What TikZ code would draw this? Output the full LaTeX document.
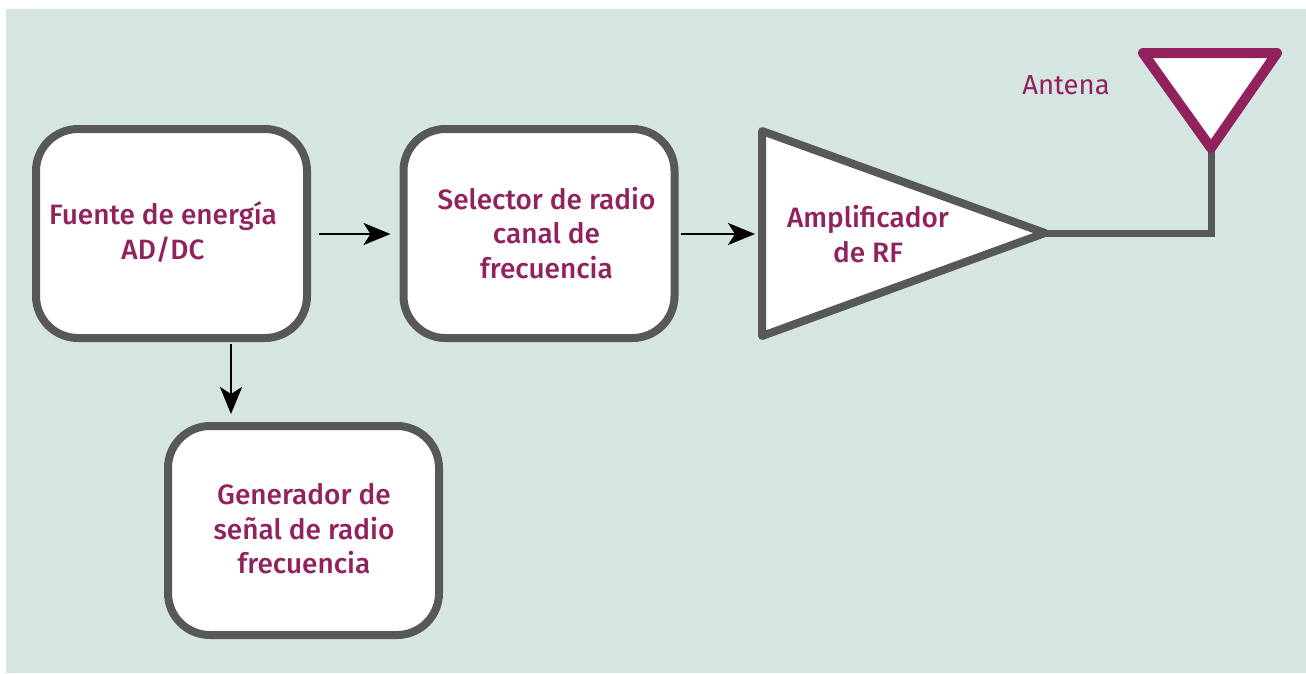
\documentclass[tikz,border=0pt]{standalone}
\usepackage{fontspec}
\setmainfont{Fira Sans}[BoldFont={Fira Sans Medium}]
\usetikzlibrary{arrows.meta,calc}
\definecolor{bgteal}{HTML}{D5E6E2}
\definecolor{boxgray}{HTML}{58585A}
\definecolor{txtpurple}{HTML}{92225E}
\tikzset{
  blockbox/.style={draw=boxgray, line width=8pt, fill=white, rounded corners=42pt,
    minimum width=271pt, minimum height=209pt, inner sep=0pt},
  blocktext/.style={text=txtpurple, font=\fontsize{28}{34.5}\selectfont\bfseries, align=center, inner sep=0pt},
  flowarrow/.style={line width=2.6pt, black, -{Stealth[length=27pt,width=22pt,inset=7pt]}},
  wire/.style={draw=boxgray, line width=7pt},
}
\begin{document}
\begin{tikzpicture}[x=1pt,y=-1pt]
\useasboundingbox (0,0) rectangle (1306,673);
\fill[bgteal] (6,9) rectangle (1306,673);

% blocks
\node[blockbox] (fuente) at (171.5,233.5) {};
\node[blocktext] (fuentet) at (163,232) {Fuente de energía\\AD/DC};
\node[blockbox] (selector) at (539,233.5) {};
\node[blocktext] (selectort) at (546.5,233) {Selector de radio\\canal de\\frecuencia};
\node[blockbox] (generador) at (303.5,530.5) {};
\node[blocktext] (generadort) at (304,529) {Generador de\\señal de radio\\frecuencia};

% amplifier
\coordinate (amptop) at (762,131);
\coordinate (ampbot) at (762,336);
\coordinate (amptip) at (1045,233);
\coordinate (ampin) at (758,234);
\draw[boxgray, line width=8pt, fill=white, line join=round] (amptop) -- (amptip) -- (ampbot) -- cycle;
\node[blocktext] (ampt) at (868,234) {Amplificador\\de RF};

% antenna
\coordinate (antl) at (1143,53);
\coordinate (antr) at (1277,53);
\coordinate (antv) at (1211,148);
\coordinate (corner) at (1211,233);
\draw[wire] (amptip) -- (corner) -- (antv);
\draw[txtpurple, line width=10pt, fill=white, line join=round] (antl) -- (antr) -- (antv) -- cycle;
\node[text=txtpurple, font=\fontsize{27.5}{30}\selectfont, inner sep=0pt] (antena) at (1066,85) {Antena};

% arrows
\draw[flowarrow, shorten <=8pt, shorten >=9pt] (fuente.east |- 0,234) -- (selector.west |- 0,234);
\draw[flowarrow, shorten <=2pt, shorten >=3pt] (selector.east |- 0,234) -- (ampin);
\draw[flowarrow, shorten <=2pt, shorten >=8pt] ([xshift=59.5pt]fuente.south) -- ([xshift=59.5pt]fuente.south |- generador.north);
\end{tikzpicture}
\end{document}
